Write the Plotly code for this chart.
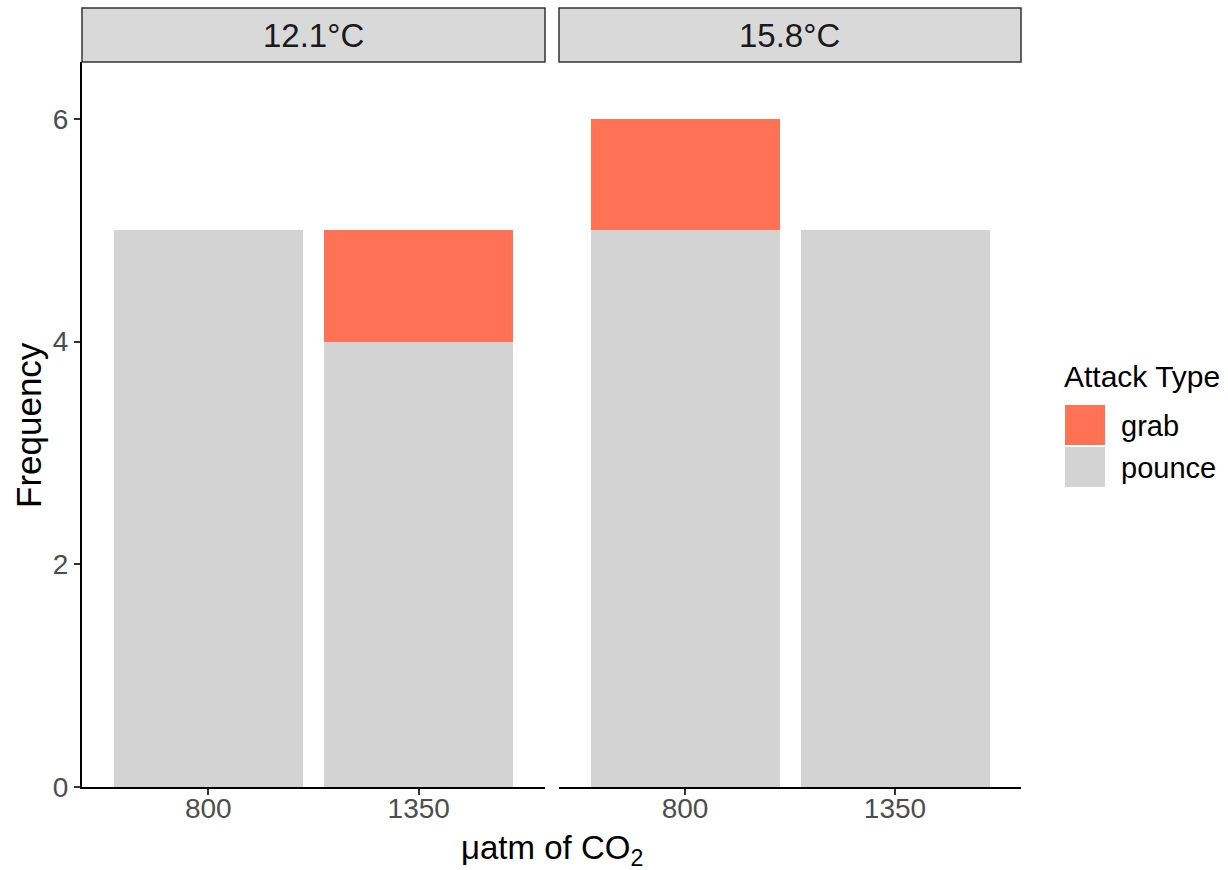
import plotly.graph_objects as go
from plotly.subplots import make_subplots

# ---- data ----
temperatures = ["12.1°C", "15.8°C"]
co2_levels = ["800", "1350"]
attack_types = ["grab", "pounce"]
grab_counts = {"12.1°C": [0, 1], "15.8°C": [1, 0]}
pounce_counts = {"12.1°C": [5, 4], "15.8°C": [5, 5]}
colors = {"grab": "#FF7256", "pounce": "#D3D3D3"}

W, H = 1228, 870
HP = 854  # effective rendered paper height in the viewer
FONT = "Liberation Sans, Arial, sans-serif"

def px(x):
    return x / W

def py(y):
    return 1 - y / HP

panels = [(82, 545), (559, 1021)]
top, bottom = 62, 787

fig = make_subplots(rows=1, cols=2, shared_yaxes=False)

for i, t in enumerate(temperatures):
    col = i + 1
    fig.add_trace(go.Bar(x=co2_levels, y=pounce_counts[t], name="pounce",
                         marker=dict(color=colors["pounce"], line=dict(width=0)),
                         width=0.9, showlegend=False), row=1, col=col)
    fig.add_trace(go.Bar(x=co2_levels, y=grab_counts[t], name="grab",
                         marker=dict(color=colors["grab"], line=dict(width=0)),
                         width=0.9, showlegend=False), row=1, col=col)

fig.update_layout(barmode="stack", bargap=0.1)

for i, (x0, x1) in enumerate(panels):
    xa = "xaxis" if i == 0 else "xaxis2"
    ya = "yaxis" if i == 0 else "yaxis2"
    fig.layout[xa].update(domain=[px(x0), px(x1)], type="category",
                          range=[-0.6, 1.6], showline=True, linecolor="black",
                          linewidth=2, ticks="outside", ticklen=6, tickwidth=2,
                          tickcolor="#333333", showgrid=False, zeroline=False,
                          ticklabelstandoff=-11,
                          tickfont=dict(size=28, color="#4D4D4D", family=FONT))
    fig.layout[ya].update(domain=[py(bottom), py(top)], range=[0, 6.51],
                          showgrid=False, zeroline=False)
    if i == 0:
        fig.layout[ya].update(showline=True, linecolor="black", linewidth=2,
                              ticks="outside", ticklen=6, tickwidth=2,
                              tickcolor="#333333", tickvals=[0, 2, 4, 6],
                              tickfont=dict(size=28, color="#4D4D4D", family=FONT))
    else:
        fig.layout[ya].update(showline=False, showticklabels=False, ticks="")
    # strip
    fig.add_shape(type="rect", xref="paper", yref="paper",
                  x0=px(x0), x1=px(x1), y0=py(62), y1=py(8),
                  fillcolor="#D9D9D9", line=dict(color="#333333", width=1.5),
                  layer="below")
    fig.add_annotation(xref="paper", yref="paper", x=px((x0 + x1) / 2), y=py(35),
                       text=temperatures[i], showarrow=False,
                       font=dict(size=33, color="#1A1A1A", family=FONT),
                       xanchor="center", yanchor="middle")

# axis titles
fig.add_annotation(xref="paper", yref="paper", x=px((82 + 1021) / 2), y=py(850),
                   text="μatm of CO<sub>2</sub>", showarrow=False,
                   font=dict(size=33, color="black", family=FONT),
                   xanchor="center", yanchor="middle")
fig.add_annotation(xref="paper", yref="paper", x=px(28), y=py(425),
                   text="Frequency", showarrow=False, textangle=-90,
                   font=dict(size=35, color="black", family=FONT),
                   xanchor="center", yanchor="middle")

# legend (manual, large keys)
fig.add_annotation(xref="paper", yref="paper", x=px(1062), y=py(377),
                   text="Attack Type", showarrow=False,
                   font=dict(size=30, color="black", family=FONT),
                   xanchor="left", yanchor="middle")
for k, a in enumerate(attack_types):
    y0 = 405 + 42 * k
    fig.add_shape(type="rect", xref="paper", yref="paper",
                  x0=px(1065), x1=px(1105), y0=py(y0 + 40), y1=py(y0),
                  fillcolor=colors[a], line=dict(width=0))
    fig.add_annotation(xref="paper", yref="paper", x=px(1119), y=py(y0 + 21),
                       text=a, showarrow=False,
                       font=dict(size=29, color="black", family=FONT),
                       xanchor="left", yanchor="middle")

fig.update_layout(width=W, height=H, autosize=False,
                  margin=dict(l=0, r=0, t=0, b=0, pad=0),
                  plot_bgcolor="white", paper_bgcolor="white",
                  showlegend=False, font=dict(family=FONT))

fig.write_html("out.html", config={"responsive": False},
               include_plotlyjs=True)
